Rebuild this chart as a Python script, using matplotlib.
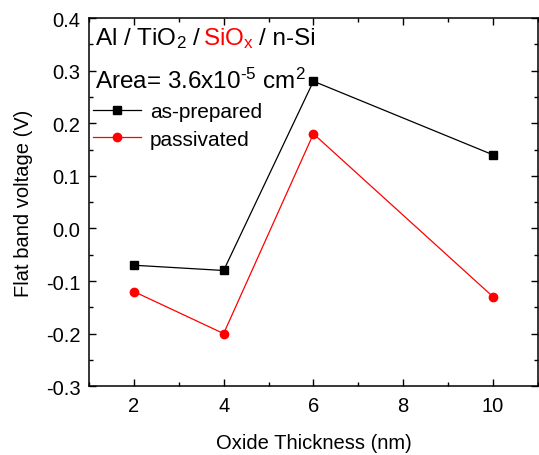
import matplotlib
matplotlib.use("Agg")
import matplotlib.pyplot as plt
from matplotlib.ticker import MultipleLocator, FormatStrFormatter

plt.rcParams['font.family'] = ['Liberation Sans', 'DejaVu Sans']
plt.rcParams['mathtext.fontset'] = 'custom'
plt.rcParams['mathtext.rm'] = 'Liberation Sans'
plt.rcParams['mathtext.it'] = 'Liberation Sans'
plt.rcParams['mathtext.bf'] = 'Liberation Sans:bold'

thickness = [2, 4, 6, 10]
as_prepared = [-0.07, -0.08, 0.28, 0.14]
passivated = [-0.12, -0.20, 0.18, -0.13]

fig = plt.figure(figsize=(5.39, 4.56), dpi=100)
ax = fig.add_axes([0.165, 0.151, 0.833, 0.807])

ax.plot(thickness, as_prepared, color='black', marker='s', markersize=5.2,
        linewidth=0.9, label='as-prepared')
ax.plot(thickness, passivated, color='red', marker='o', markersize=6,
        linewidth=0.9, label='passivated')

ax.set_xlim(1, 11)
ax.set_ylim(-0.3, 0.4)
ax.xaxis.set_major_locator(MultipleLocator(2))
ax.xaxis.set_minor_locator(MultipleLocator(1))
ax.yaxis.set_major_locator(MultipleLocator(0.1))
ax.yaxis.set_minor_locator(MultipleLocator(0.05))
ax.yaxis.set_major_formatter(FormatStrFormatter('%.1f'))
ax.tick_params(which='both', direction='in', top=True, right=True, width=1)
ax.tick_params(which='major', length=5, labelsize=14.5)
ax.tick_params(axis='x', which='major', pad=7)
ax.tick_params(axis='y', which='major', pad=6)
ax.tick_params(which='minor', length=3)
for s in ax.spines.values():
    s.set_linewidth(1.1)

ax.set_xlabel('Oxide Thickness (nm)', fontsize=14.5, labelpad=13)
ax.set_ylabel('Flat band voltage (V)', fontsize=14.5, labelpad=9)

leg = ax.legend(loc='upper left', bbox_to_anchor=(-0.01, 0.795), frameon=False,
                fontsize=15, handlelength=2.3, handletextpad=0.45,
                labelspacing=0.42, borderaxespad=0)

# title line with coloured SiOx part
fig.canvas.draw()
renderer = fig.canvas.get_renderer()
parts = [('Al / TiO$_2$ /', 'black', 2), ('SiO$_x$', 'red', 5), ('/ n-Si', 'black', 0)]
x = 0.013
for txt, col, gap in parts:
    t = ax.text(x, 0.929, txt, transform=ax.transAxes, fontsize=17.5,
                color=col, va='baseline', ha='left')
    bb = t.get_window_extent(renderer)
    x = ax.transAxes.inverted().transform((bb.x1 + gap, bb.y0))[0]

ax.text(0.013, 0.81, r'Area= 3.6x10$^{\text{-5}}$ cm$^2$', transform=ax.transAxes,
        fontsize=17.5, va='baseline', ha='left')

fig.savefig('out.png', dpi=100)
